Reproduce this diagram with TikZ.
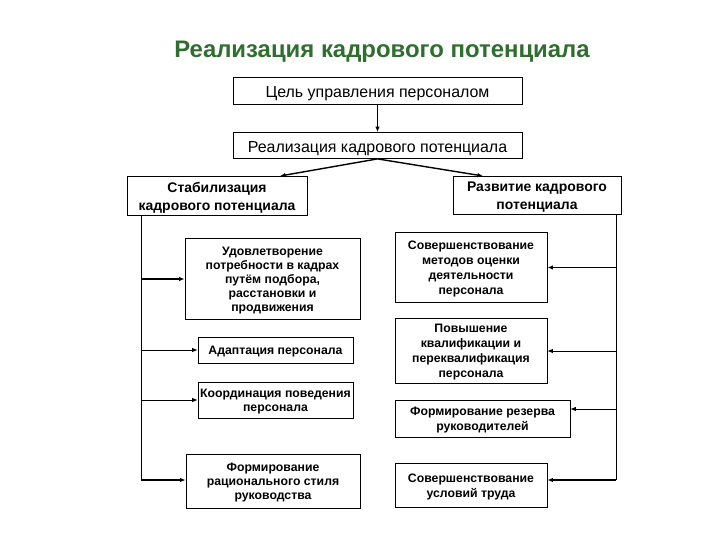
\documentclass[tikz,border=0pt]{standalone}
\usepackage{fontspec}
\setmainfont{Liberation Sans}
\usetikzlibrary{arrows.meta}
\definecolor{titlegreen}{RGB}{46,110,46}

\begin{document}
\begin{tikzpicture}[x=1bp, y=-1bp, >={Latex[length=5.5bp,width=4.5bp]},
  box/.style={draw, line width=0.8bp, align=center, inner sep=0pt},
  topbox/.style={box, minimum width=289bp, font=\fontsize{16}{19}\selectfont,
    execute at begin node={\rule{0pt}{16.5bp}}},
  headbox/.style={box, font=\bfseries\fontsize{14}{18}\selectfont, text depth=-4.5bp},
  itembox/.style={box, font=\bfseries\fontsize{12.3}{14}\selectfont, text depth=-2.4bp},
  rightbox/.style={itembox, font=\bfseries\fontsize{12.3}{15}\selectfont},
  thinline/.style={line width=0.8bp},
  thickline/.style={line width=1.8bp}]
  \useasboundingbox (0,0) rectangle (720,540);

  \node[font=\bfseries\fontsize{24}{28}\selectfont, text=titlegreen] (title) at (382,52) {Реализация кадрового потенциала};

  \node[topbox, minimum height=27bp] (goal) at (377.5,91) {Цель управления персоналом};
  \node[topbox, minimum height=26bp] (real) at (377.5,145.5) {Реализация кадрового потенциала};

  \node[headbox, minimum width=180bp, minimum height=39bp] (stab) at (217,196) {Стабилизация\\кадрового потенциала};
  \node[headbox, minimum width=168bp, minimum height=38bp] (devel) at (537,195.5) {Развитие кадрового\\потенциала};

  % left column
  \node[itembox, minimum width=175bp, minimum height=81bp] (sat) at (272.5,279) {Удовлетворение\\потребности в кадрах\\путём подбора,\\расстановки и\\продвижения};
  \node[itembox, minimum width=155bp, minimum height=26bp] (adapt) at (275.5,350) {Адаптация персонала};
  \node[itembox, minimum width=155bp, minimum height=36bp] (coord) at (275.5,400) {Координация поведения\\персонала};
  \node[itembox, minimum width=174bp, minimum height=54bp] (style) at (273,481) {Формирование\\рационального стиля\\руководства};

  % right column
  \node[rightbox, minimum width=152bp, minimum height=70bp] (eval) at (471,267.5) {Совершенствование\\методов оценки\\деятельности\\персонала};
  \node[rightbox, minimum width=152bp, minimum height=65bp] (qual) at (471,351) {Повышение\\квалификации и\\переквалификация\\персонала};
  \node[rightbox, minimum width=175bp, minimum height=37bp] (reserve) at (482.5,419) {Формирование резерва\\руководителей};
  \node[rightbox, minimum width=152bp, minimum height=44bp] (cond) at (471,485.5) {Совершенствование\\условий труда};

  \coordinate (lbus) at (141,480);
  \coordinate (rbus) at (616,480);
  \coordinate (stabin) at (280,176);
  \coordinate (develin) at (483,176);
  \coordinate (reservein) at ([yshift=10bp]reserve.east);

  \draw[->, line width=1.4bp] (goal) -- (real);
  \draw[->, line width=1.4bp] (real.south) -- (stabin);
  \draw[->, line width=1.4bp] (real.south) -- (develin);

  \draw[thinline] (stab.south -| lbus) -- (lbus);
  \draw[->, thickline] (lbus |- sat.west) -- (sat.west);
  \draw[->, thinline] (lbus |- adapt.west) -- (adapt.west);
  \draw[->, thinline] (lbus |- coord.west) -- (coord.west);
  \draw[->, thickline] (lbus) -- (lbus -| style.west);

  \draw[thinline] (devel.south -| rbus) -- (rbus);
  \draw[->, thickline] (rbus |- eval.east) -- (eval.east);
  \draw[->, thinline] (rbus |- qual.east) -- (qual.east);
  \draw[->, thinline] (rbus |- reservein) -- (reservein);
  \draw[->, thickline] (rbus) -- (rbus -| cond.east);
\end{tikzpicture}
\end{document}
